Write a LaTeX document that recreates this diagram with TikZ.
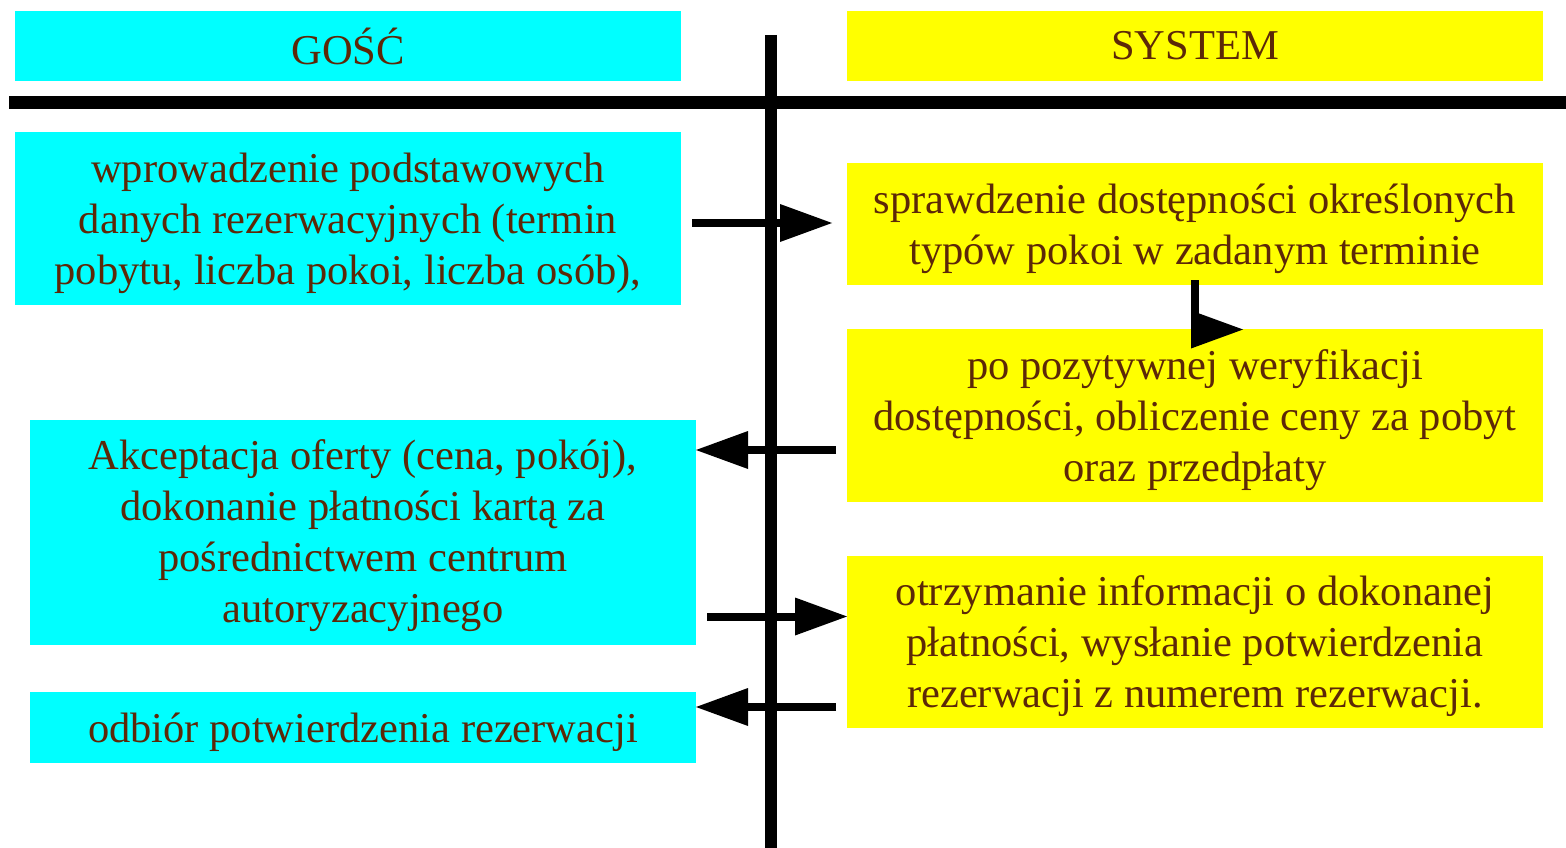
\documentclass[tikz,border=0pt]{standalone}
\usepackage{fontspec}
\setmainfont{Liberation Serif}
\usetikzlibrary{arrows.meta}
\definecolor{txtbrown}{RGB}{92,40,8}
\definecolor{gcyan}{RGB}{0,255,255}
\definecolor{syellow}{RGB}{255,255,0}
\begin{document}
\begin{tikzpicture}[x=1pt,y=-1pt,
  box/.style={rectangle, inner sep=0pt, outer sep=0pt, anchor=north west, align=center,
    text=txtbrown, font=\fontsize{42.5}{51}\selectfont},
  gbox/.style={box, fill=gcyan, minimum width=666pt},
  sbox/.style={box, fill=syellow, minimum width=696pt},
  txt/.style={inner sep=0pt, align=center, text=txtbrown, font=\fontsize{42.5}{51}\selectfont},
  bar/.style={line width=12.5pt, black},
  arr/.style={line width=8pt, black, -{Triangle[length=52pt,width=38pt,line width=0pt]}}]
\useasboundingbox (0,0) rectangle (1566,848);
% headers
\node[gbox, minimum height=70pt] (g) at (15,11) {GOŚĆ};
\node[sbox, minimum height=70pt] (s) at (847,11) {SYSTEM};
% boxes
\node[gbox, minimum height=173pt] (c1) at (15,132) {};
\node[txt] (c1t) at ([yshift=-4.5pt]c1.center) {wprowadzenie podstawowych\\danych rezerwacyjnych (termin\\pobytu, liczba pokoi, liczba osób),};
\node[sbox, minimum height=122pt] (y1) at (847,163) {};
\node[txt] (y1t) at ([yshift=-4.5pt]y1.center) {sprawdzenie dostępności określonych\\typów pokoi w zadanym terminie};
\node[sbox, minimum height=173pt] (y2) at (847,329) {};
\node[txt] (y2t) at ([yshift=-4.5pt]y2.center) {po pozytywnej weryfikacji\\dostępności, obliczenie ceny za pobyt\\oraz przedpłaty};
\node[gbox, minimum height=225pt] (c2) at (30,420) {};
\node[txt] (c2t) at ([yshift=-3.5pt]c2.center) {Akceptacja oferty (cena, pokój),\\dokonanie płatności kartą za\\pośrednictwem centrum\\autoryzacyjnego};
\node[sbox, minimum height=172pt] (y3) at (847,556) {};
\node[txt] (y3t) at ([yshift=-4.5pt]y3.center) {otrzymanie informacji o dokonanej\\płatności, wysłanie potwierdzenia\\rezerwacji z numerem rezerwacji.};
\node[gbox, minimum height=71pt] (c3) at (30,692) {};
\node[txt] (c3t) at ([yshift=-4.5pt]c3.center) {odbiór potwierdzenia rezerwacji};
% swimlane bars
\coordinate (vt) at (771,35);
\coordinate (vb) at (771,848);
\coordinate (hl) at (9,102.5);
\coordinate (hr) at (1566,102.5);
\draw[bar] (vt) -- (vb);
\draw[bar] (hl) -- (hr);
% connectors
\coordinate (a1s) at (692,223);
\coordinate (a1e) at (832,223);
\draw[arr] (a1s) -- (a1e);
\coordinate (a2s) at ([yshift=5pt]y1.south);
\coordinate (a2e) at (1243,329.5);
\draw[arr] (a2s) |- (a2e);
\coordinate (a3s) at (836,450);
\coordinate (a3e) at (c2.east |- a3s);
\draw[arr] (a3s) -- (a3e);
\coordinate (a4s) at (707,616.5);
\coordinate (a4e) at (y3.west |- a4s);
\draw[arr] (a4s) -- (a4e);
\coordinate (a5s) at (836,707);
\coordinate (a5e) at (c3.east |- a5s);
\draw[arr] (a5s) -- (a5e);
\end{tikzpicture}
\end{document}
